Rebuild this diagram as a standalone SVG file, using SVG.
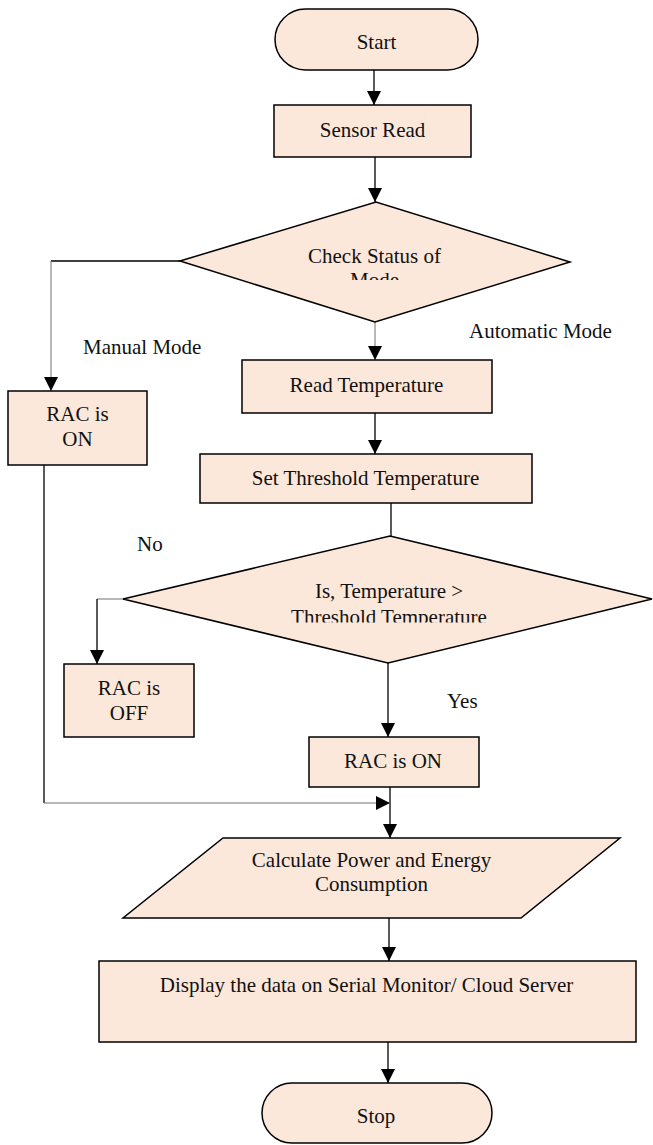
<svg xmlns="http://www.w3.org/2000/svg" width="653" height="1145" viewBox="0 0 653 1145">
<style>
.shape{fill:#FCE8DA;stroke:#000;stroke-width:1.5}
.t{font-family:"Liberation Serif","Times New Roman",serif;font-size:21px;fill:#111}
.m{text-anchor:middle}
.c{fill:none;stroke:#000;stroke-width:1.3}
.g{fill:none;stroke:#707070;stroke-width:1}
</style>
<defs>
<marker id="ah" markerUnits="userSpaceOnUse" markerWidth="14" markerHeight="14" refX="14" refY="7" orient="auto">
<path d="M0,0 L14,7 L0,14 z" fill="#000"/>
</marker>
<clipPath id="clip1"><rect x="180" y="200" width="390" height="80"/></clipPath>
<clipPath id="clip2"><rect x="120" y="530" width="533" height="92.5"/></clipPath>
</defs>
<rect width="653" height="1145" fill="#fff"/>

<g id="connectors">
<path class="c" d="M374,70 V105" marker-end="url(#ah)"/>
<path class="c" d="M375,157 V202" marker-end="url(#ah)"/>
<path class="c" d="M180,261 H51"/>
<path class="g" d="M51,261 V391" marker-end="url(#ah)"/>
<path class="g" d="M375,322 V360" marker-end="url(#ah)"/>
<path class="c" d="M375,413 V454" marker-end="url(#ah)"/>
<path class="c" d="M391,503 V536"/>
<path class="g" d="M123,599 H97"/>
<path class="c" d="M97,599 V664" marker-end="url(#ah)"/>
<path class="c" d="M388,663 V737" marker-end="url(#ah)"/>
<path class="c" d="M390,787 V838" marker-end="url(#ah)"/>
<path class="c" d="M44,465 V803"/>
<path class="g" d="M44,803 H390" marker-end="url(#ah)"/>
<path class="c" d="M389,918 V961" marker-end="url(#ah)"/>
<path class="c" d="M388,1042 V1083" marker-end="url(#ah)"/>
<text class="t" x="83" y="354">Manual Mode</text>
<text class="t" x="469" y="338">Automatic Mode</text>
<text class="t" x="137" y="551">No</text>
<text class="t" x="447" y="708">Yes</text>
</g>

<g id="start">
<rect class="shape" x="275" y="9" width="203" height="61" rx="30.5"/>
<text class="t m" x="376.5" y="49">Start</text>
</g>

<g id="sensor-read">
<rect class="shape" x="274" y="105" width="197" height="52"/>
<text class="t m" x="372.5" y="137">Sensor Read</text>
</g>

<g id="check-mode">
<polygon class="shape" points="180,261 376,202 570,262 375,322"/>
<g clip-path="url(#clip1)">
<text class="t m" x="374.5" y="263">Check Status of</text>
<text class="t m" x="374.5" y="287">Mode</text>
</g>
</g>

<g id="rac-on-manual">
<rect class="shape" x="8" y="391" width="139" height="74"/>
<text class="t m" x="77.5" y="421">RAC is</text>
<text class="t m" x="77.5" y="446">ON</text>
</g>

<g id="read-temp">
<rect class="shape" x="242" y="360" width="250" height="53"/>
<text class="t m" x="366.5" y="392">Read Temperature</text>
</g>

<g id="set-threshold">
<rect class="shape" x="200" y="454" width="332" height="49"/>
<text class="t m" x="365.5" y="485">Set Threshold Temperature</text>
</g>

<g id="compare-temp">
<polygon class="shape" points="123,599 390,536 652,599 388,663"/>
<g clip-path="url(#clip2)">
<text class="t m" x="389" y="598">Is, Temperature &gt;</text>
<text class="t m" x="389" y="624">Threshold Temperature</text>
</g>
</g>

<g id="rac-off">
<rect class="shape" x="64" y="664" width="130" height="73"/>
<text class="t m" x="129" y="695">RAC is</text>
<text class="t m" x="129" y="720">OFF</text>
</g>

<g id="rac-on-auto">
<rect class="shape" x="309" y="737" width="170" height="50"/>
<text class="t m" x="393" y="768">RAC is ON</text>
</g>

<g id="calculate">
<polygon class="shape" points="223,838 620,838 521,918 123,918"/>
<text class="t m" x="371.5" y="867">Calculate Power and Energy</text>
<text class="t m" x="371.5" y="891">Consumption</text>
</g>

<g id="display">
<rect class="shape" x="99" y="961" width="537" height="81"/>
<text class="t m" x="366.5" y="992">Display the data on Serial Monitor/ Cloud Server</text>
</g>

<g id="stop">
<rect class="shape" x="262" y="1083" width="230" height="60" rx="30"/>
<text class="t m" x="376" y="1123">Stop</text>
</g>
</svg>
